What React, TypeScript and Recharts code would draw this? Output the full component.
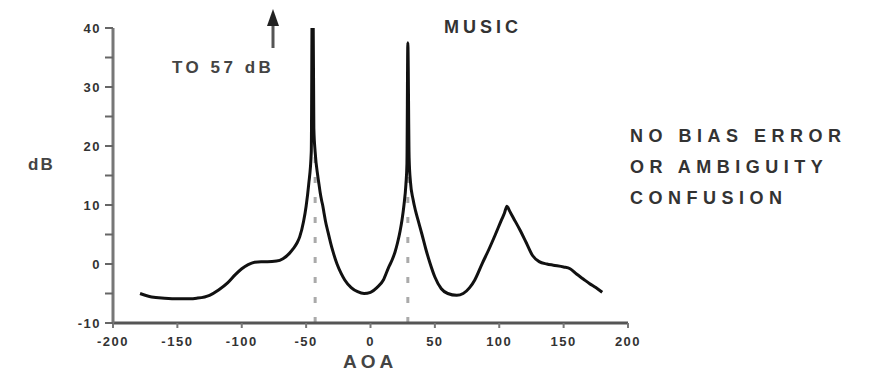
import React from "react";
import {
  LineChart,
  Line,
  XAxis,
  YAxis,
  ReferenceLine,
} from "recharts";

// AOA (degrees) and spectrum level (dB)
const aoa = [
  -179, -170, -160, -150, -140, -135, -125, -118, -111, -105, -100, -95, -90, -85, -80, -73,
  -68, -63, -60, -57, -55, -52, -50, -48, -46, -45, -44, -43, -41, -40, -39, -38, -37, -36,
  -35, -33, -31, -29, -26, -23, -20, -15, -10, -5, 0, 5, 10, 14, 17, 19, 21, 23, 24.5, 26,
  27.5, 28.3, 29, 30, 31, 33, 35, 37, 40, 43, 46, 50, 55, 60, 67, 72, 77, 81, 87, 92, 97, 102,
  104, 106, 108, 111, 116, 121, 126, 131, 137, 142, 150, 155, 160, 165, 170, 175, 180,
];
const level = [
  -5, -5.6, -5.8, -5.9, -5.9, -5.8, -5.3, -4.4, -3.2, -1.8, -0.8, -0.1, 0.3, 0.4, 0.4, 0.5,
  0.9, 1.8, 2.6, 3.6, 4.6, 7.2, 9.8, 13.5, 19, 57, 23, 19, 15, 13.5, 12, 10.8, 9.8, 8.5,
  7.3, 5.4, 3.6, 2, 0, -1.5, -2.7, -4, -4.7, -5, -4.8, -4, -2.7, -0.6, 0.8, 2, 3.6, 5.6, 7.5, 10,
  13.5, 17, 37.5, 18, 14, 11, 9, 7.4, 5, 2.5, 0.3, -2.2, -4.2, -5, -5.3, -5, -4, -2.7, 0.2, 2.5, 5, 7.6,
  8.6, 9.8, 9.0, 7.8, 5.8, 3.6, 1.4, 0.4, 0, -0.2, -0.5, -0.8, -1.7, -2.5, -3.3, -4, -4.8,
];

const xTicks = [-200, -150, -100, -50, 0, 50, 100, 150, 200];
const yTicks = [-10, -5, 0, 5, 10, 15, 20, 25, 30, 35, 40];

// peak directions marked with dashed lines
const peakMarks = [
  { x: -43, top: 20 },
  { x: 29, top: 15 },
];

const data = aoa.map((a, i) => ({ aoa: a, db: level[i] }));

const font = "'Liberation Sans', Arial, sans-serif";
const ink = "#333";

const tickStyle = { fill: ink, fontSize: 13, fontWeight: 700, fontFamily: font, letterSpacing: 1.5 };

export default function App() {
  return (
    <div style={{ position: "fixed", left: 0, top: 0, width: 875, height: 373, background: "#fff", fontFamily: font }}>
      <LineChart width={875} height={373} data={data} margin={{ top: 28, right: 247, bottom: 0, left: 0 }}>
        <XAxis
          dataKey="aoa"
          type="number"
          domain={[-200, 200]}
          ticks={xTicks}
          height={50}
          tick={tickStyle}
          tickSize={5}
          tickMargin={9}
          axisLine={{ stroke: "#555", strokeWidth: 3 }}
          tickLine={{ stroke: "#777", strokeWidth: 2 }}
        />
        <YAxis
          type="number"
          domain={[-10, 40]}
          ticks={yTicks}
          allowDataOverflow
          width={113}
          tickFormatter={(v: number) => (v % 10 === 0 ? String(v) : "")}
          tick={tickStyle}
          tickSize={8}
          tickMargin={4}
          axisLine={{ stroke: "#777", strokeWidth: 3 }}
          tickLine={{ stroke: "#666", strokeWidth: 2 }}
        />
        {peakMarks.map((p) => (
          <ReferenceLine
            key={p.x}
            segment={[{ x: p.x, y: -10 }, { x: p.x, y: p.top }]}
            stroke="#aaa"
            strokeWidth={3}
            strokeDasharray="6 14"
          />
        ))}
        <Line
          dataKey="db"
          type="monotone"
          stroke="#111"
          strokeWidth={3}
          dot={false}
          isAnimationActive={false}
        />
      </LineChart>

      <svg width={875} height={373} style={{ position: "absolute", left: 0, top: 0, pointerEvents: "none" }}>
        <line x1={273} y1={20} x2={273} y2={48} stroke="#555" strokeWidth={3} />
        <polygon points="273,9 267,26 279,26" fill="#222" />
      </svg>

      <div style={{ position: "absolute", left: 28, top: 155, fontSize: 17, fontWeight: 700, color: "#444", letterSpacing: 2 }}>dB</div>
      <div style={{ position: "absolute", left: 343, top: 351, fontSize: 19, fontWeight: 700, color: "#444", letterSpacing: 4 }}>AOA</div>
      <div style={{ position: "absolute", left: 444, top: 17, fontSize: 18, fontWeight: 700, color: "#333", letterSpacing: 4 }}>MUSIC</div>
      <div style={{ position: "absolute", left: 172, top: 58, fontSize: 17, fontWeight: 700, color: "#444", letterSpacing: 3.5 }}>TO 57 dB</div>
      <div
        style={{
          position: "absolute",
          left: 630,
          top: 121,
          fontSize: 18,
          fontWeight: 700,
          color: "#333",
          letterSpacing: 5.5,
          lineHeight: "31px",
        }}
      >
        <div>NO BIAS ERROR</div>
        <div>OR AMBIGUITY</div>
        <div>CONFUSION</div>
      </div>
    </div>
  );
}
